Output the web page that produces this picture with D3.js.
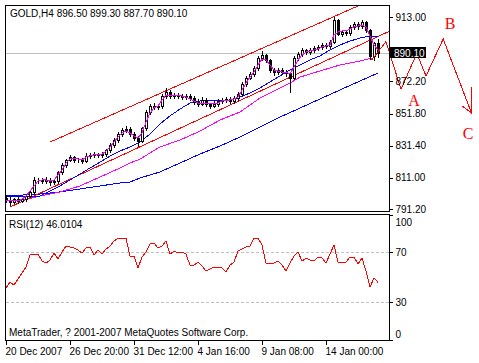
<!DOCTYPE html>
<html>
<head>
<meta charset="utf-8">
<script src="https://cdnjs.cloudflare.com/ajax/libs/d3/7.8.5/d3.min.js"></script>
<style>
body { margin: 0; background: #fff; }
svg text { font-family: "Liberation Sans", Arial, sans-serif; font-size: 10px; fill: #000; }
</style>
</head>
<body>
<div id="chart"></div>
<script>
/* chart data */
var symbol = "GOLD,H4";

var opens = [798.0, 796.8, 795.5, 797.4, 796.1, 797.4, 799.3, 801.9, 809.5, 809.5,
	808.9, 809.5, 808.2, 808.9, 814.6, 819.0, 822.2, 824.1, 822.2, 822.2,
	821.6, 824.8, 825.4, 826.0, 825.4, 826.0, 828.6, 831.8, 835.0, 838.8,
	841.3, 842.0, 838.8, 836.2, 834.3, 842.6, 852.8, 856.6, 856.0, 856.6,
	863.0, 865.5, 863.0, 863.6, 863.0, 862.3, 863.0, 861.7, 859.1, 857.9,
	860.4, 857.9, 856.6, 857.9, 859.8, 860.4, 861.0, 859.8, 861.7, 864.2,
	870.6, 874.4, 876.9, 880.7, 887.1, 889.0, 885.8, 879.5, 878.2, 879.5,
	878.2, 877.6, 874.4, 887.1, 889.6, 892.2, 890.9, 892.2, 893.5, 894.1,
	895.4, 894.7, 897.3, 911.3, 902.4, 903.6, 903.0, 906.8, 908.7, 907.5,
	910.0, 904.9, 888.5, 896.5];
var highs = [800.0, 798.5, 798.2, 798.6, 798.4, 800.0, 802.5, 811.5, 811.0, 810.6,
	811.2, 810.8, 810.0, 815.5, 820.5, 823.0, 825.5, 825.0, 823.8, 823.5,
	826.5, 827.0, 827.3, 827.0, 827.2, 829.5, 833.0, 836.5, 840.0, 842.5,
	843.8, 843.0, 840.0, 837.5, 843.5, 854.0, 858.0, 858.5, 858.0, 864.5,
	868.0, 866.5, 865.0, 864.8, 864.5, 864.3, 864.5, 863.0, 861.0, 862.5,
	861.5, 858.8, 859.5, 861.0, 862.0, 862.5, 862.4, 862.8, 865.5, 871.8,
	876.0, 878.5, 882.0, 888.5, 891.5, 889.8, 886.5, 880.8, 880.6, 880.5,
	879.5, 878.5, 888.5, 891.0, 893.5, 893.0, 893.4, 894.8, 895.5, 896.5,
	896.8, 898.5, 913.0, 911.8, 904.5, 905.0, 908.0, 910.2, 909.8, 911.5,
	910.8, 905.5, 897.5, 899.3];
var lows = [795.5, 794.0, 794.8, 795.0, 795.5, 796.5, 798.5, 801.0, 807.5, 807.6,
	807.8, 806.5, 807.3, 808.0, 813.5, 818.0, 821.5, 821.0, 820.8, 820.5,
	821.0, 823.5, 824.5, 824.3, 824.5, 825.0, 827.5, 830.5, 834.0, 837.5,
	840.0, 837.5, 835.0, 831.5, 833.5, 841.5, 851.5, 854.8, 854.5, 855.5,
	862.0, 862.0, 861.8, 861.5, 860.8, 861.0, 860.5, 858.0, 856.5, 857.0,
	856.5, 855.5, 855.8, 856.8, 858.5, 859.0, 858.5, 858.8, 860.5, 863.5,
	869.5, 873.5, 876.0, 879.5, 886.0, 884.8, 878.5, 876.5, 877.0, 877.0,
	875.5, 865.5, 873.5, 886.0, 888.5, 889.5, 889.8, 891.0, 892.5, 893.0,
	893.5, 893.5, 896.5, 901.5, 901.0, 901.8, 902.0, 905.5, 905.5, 906.5,
	903.5, 886.5, 886.0, 887.7];
var closes = [796.8, 795.5, 797.4, 796.1, 797.4, 799.3, 801.9, 809.5, 809.5, 808.9,
	809.5, 808.2, 808.9, 814.6, 819.0, 822.2, 824.1, 822.2, 822.2, 821.6,
	824.8, 825.4, 826.0, 825.4, 826.0, 828.6, 831.8, 835.0, 838.8, 841.3,
	842.0, 838.8, 836.2, 834.3, 842.6, 852.8, 856.6, 856.0, 856.6, 863.0,
	865.5, 863.0, 863.6, 863.0, 862.3, 863.0, 861.7, 859.1, 857.9, 860.4,
	857.9, 856.6, 857.9, 859.8, 860.4, 861.0, 859.8, 861.7, 864.2, 870.6,
	874.4, 876.9, 880.7, 887.1, 889.0, 885.8, 879.5, 878.2, 879.5, 878.2,
	877.6, 874.4, 887.1, 889.6, 892.2, 890.9, 892.2, 893.5, 894.1, 895.4,
	894.7, 897.3, 911.3, 902.4, 903.6, 903.0, 906.8, 908.7, 907.5, 910.0,
	904.9, 888.5, 896.5, 890.1];

/* fast magenta average, one value per bar */
var maFast = [796.3, 796.3, 796.3, 796.3, 797.5, 799.4, 802.6, 805.8, 809.0, 809.6,
	809.6, 809.0, 809.6, 812.8, 816.0, 820.4, 822.9, 823.6, 822.9, 822.3,
	824.2, 824.9, 825.5, 825.5, 826.1, 828.0, 830.6, 833.7, 836.9, 839.5,
	840.7, 839.5, 837.6, 836.3, 839.5, 846.5, 852.2, 855.3, 856.6, 860.4,
	863.6, 863.6, 863.6, 863.0, 863.0, 862.3, 861.1, 859.8, 858.5, 858.5,
	858.5, 857.9, 857.9, 858.5, 859.8, 860.4, 860.4, 861.1, 862.3, 866.8,
	871.2, 875.0, 878.2, 882.7, 886.5, 885.9, 882.7, 879.5, 878.9, 878.2,
	878.2, 877.0, 881.4, 885.9, 889.0, 890.9, 891.6, 892.2, 892.8, 894.1,
	894.7, 895.4, 901.7, 903.6, 904.3, 904.3, 905.5, 906.8, 907.5, 908.1,
	906.8, 901.1, 895.4, 892.2];

/* slower averages as [bar, price] */
var maBlue = [[0, 799.4], [8.5, 799.4], [11, 802.6], [13.5, 805.8], [16, 809.6], [18.5, 813.4],
	[21, 817.2], [23.5, 821.0], [26, 824.8], [28.5, 828.0], [31, 830.6], [33.5, 833.7],
	[36, 838.8], [38.5, 845.2], [41, 850.3], [43.5, 854.7], [46, 858.5], [48.5, 859.8],
	[51, 859.8], [53.5, 860.4], [56, 860.4], [58.5, 862.3], [61, 864.9], [63.5, 868.1],
	[66, 871.9], [68.5, 875.7], [71, 879.5], [73.5, 882.7], [76, 885.9], [78.5, 888.4],
	[81, 892.2], [83.5, 895.4], [86, 897.9], [88.5, 899.8], [91, 901.1], [93, 900.5]];
var maBlueSlow = [[0, 799.4], [8.5, 800.7], [13.5, 802.0], [18.5, 803.9], [23.5, 805.8],
	[28.5, 807.7], [31, 808.3], [33.5, 810.9], [38.5, 814.7], [43.5, 820.4], [48.5, 826.1],
	[53.5, 831.2], [58.5, 836.9], [63.5, 843.3], [68.5, 849.6], [73.5, 855.3], [78.5, 861.1],
	[83.5, 866.8], [88.5, 872.5], [93, 877.6]];
var maMagentaSlow = [[0, 796.3], [3.5, 796.3], [8.5, 799.4], [13.5, 802.0], [18.5, 805.8],
	[23.5, 811.5], [28.5, 817.2], [31, 820.4], [33.5, 822.9], [38.5, 830.6], [43.5, 835.0],
	[48.5, 840.7], [53.5, 847.7], [58.5, 852.8], [63.5, 861.7], [68.5, 868.1], [71, 871.2],
	[73.5, 875.0], [78.5, 878.9], [83.5, 882.7], [88.5, 885.2], [91.5, 887.1]];

/* trend channel and the A-B-C wave sketch */
var channelLow = [[1, 792.4], [96.5, 904.9]];
var channelHigh = [[11, 833.7], [88.9, 921.2]];
var wave = [[91.4, 885.8], [95, 897.5], [98.75, 867.2], [102.7, 890.1], [105, 875.7], [109.3, 899.2], [116.4, 852.0]];
var arrowHead = [[114.1, 856.6], [116.4, 852.0], [116.4, 868.5]];
var waveLabels = [["A", 102, 860.4], ["B", 111, 909.4], ["C", 115.5, 839.4]];

var rsi = [41.4, 46.2, 43.8, 48.6, 53.4, 58.2, 67.8, 68.6, 68.6, 63.0,
	61.4, 63.8, 69.4, 64.6, 70.2, 75.0, 74.2, 73.4, 71.8, 69.4,
	73.4, 74.2, 67.8, 71.8, 68.6, 72.6, 75.0, 79.0, 81.4, 81.4,
	81.4, 67.0, 67.0, 57.4, 66.2, 70.2, 76.6, 77.4, 73.4, 75.0,
	79.0, 68.6, 71.0, 69.4, 70.2, 68.6, 59.8, 59.8, 62.2, 59.0,
	55.0, 56.6, 58.2, 58.2, 57.4, 54.2, 59.8, 62.2, 71.0, 72.6,
	74.2, 75.0, 81.4, 81.4, 75.8, 61.4, 61.4, 61.4, 63.0, 59.8,
	55.0, 61.4, 67.0, 70.2, 63.0, 65.4, 63.8, 63.0, 66.2, 65.4,
	61.4, 68.6, 75.8, 62.2, 62.2, 62.2, 66.2, 66.2, 60.6, 65.4,
	55.0, 42.2, 49.4, 46.0104];

/* 892.60 sits under the price box in the picture, so only its tick is kept */
var priceTicks = [913.00, 892.60, 872.20, 851.80, 831.40, 811.00, 791.20];
var priceLabels = ["913.00", "", "872.20", "851.80", "831.40", "811.00", "791.20"];
var rsiTicks = [100, 70, 30, 0];
var rsiLevels = [70, 30];
var timeTickBars = [0, 16, 32, 48, 64, 80];
var timeTickLabels = ["20 Dec 2007", "26 Dec 20:00", "31 Dec 12:00", "4 Jan 16:00", "9 Jan 08:00", "14 Jan 00:00"];

var width = 479, height = 363;
var n = closes.length;
var last = n - 1;

var svg = d3.select("#chart").append("svg")
	.attr("width", width)
	.attr("height", height);

/* scales */
var x = d3.scaleLinear().domain([0, 95.75]).range([6, 389]);
var y = d3.scaleLinear().domain([789.9, 920.8]).range([211, 5]);
var yr = d3.scaleLinear().domain([0, 100]).range([339.8, 214.8]);
var f2 = d3.format(".2f");

function px(i) { return Math.round(x(i)); }

svg.append("clipPath").attr("id", "mainClip")
	.append("rect").attr("x", 6).attr("y", 6).attr("width", 383).attr("height", 205);
svg.append("clipPath").attr("id", "rsiClip")
	.append("rect").attr("x", 6).attr("y", 215).attr("width", 383).attr("height", 125);

var main = svg.append("g").attr("clip-path", "url(#mainClip)");

/* bid line */
main.append("line")
	.attr("x1", 6).attr("x2", 389)
	.attr("y1", Math.round(y(closes[last])) + 0.5)
	.attr("y2", Math.round(y(closes[last])) + 0.5)
	.style("stroke", "#c0c0c0");

var line = d3.line().x(function(d) { return x(d[0]); }).y(function(d) { return y(d[1]); });

function addPath(g, data, color) {
	g.append("path")
		.datum(data)
		.attr("d", line)
		.style("fill", "none")
		.style("stroke", color)
		.style("stroke-width", 1)
		.style("shape-rendering", "crispEdges");
}

addPath(main, maBlueSlow, "#0000ff");
addPath(main, maMagentaSlow, "#ff00ff");
addPath(main, channelLow, "#ff0000");
addPath(main, channelHigh, "#ff0000");
addPath(main, maBlue, "#0000ff");

/* candles */
var bars = d3.range(n);
main.selectAll("line.wick")
	.data(bars)
	.enter().append("line")
	.attr("class", "wick")
	.attr("x1", function(i) { return px(i) + 0.5; })
	.attr("x2", function(i) { return px(i) + 0.5; })
	.attr("y1", function(i) { return Math.round(y(highs[i])); })
	.attr("y2", function(i) { return Math.round(y(lows[i])) + 1; })
	.style("stroke", "#000")
	.style("shape-rendering", "crispEdges");

main.selectAll("rect.body")
	.data(bars)
	.enter().append("rect")
	.attr("class", "body")
	.attr("x", function(i) { return px(i) - 0.5; })
	.attr("y", function(i) { return Math.round(y(Math.max(opens[i], closes[i]))) + 0.5; })
	.attr("width", 2)
	.attr("height", function(i) {
		return Math.max(Math.round(y(Math.min(opens[i], closes[i]))) - Math.round(y(Math.max(opens[i], closes[i]))), 0);
	})
	.style("fill", function(i) { return closes[i] >= opens[i] ? "#fff" : "#000"; })
	.style("stroke", "#000")
	.style("shape-rendering", "crispEdges");

addPath(main, maFast.map(function(v, i) { return [i, v]; }), "#ff00ff");

/* wave sketch, drawn over the price scale */
addPath(svg, wave, "#ff0000");
addPath(svg, arrowHead, "#ff0000");

/* frames */
svg.append("rect").attr("x", 5.5).attr("y", 5.5).attr("width", 384).attr("height", 206)
	.style("fill", "none").style("stroke", "#000");
svg.append("rect").attr("x", 5.5).attr("y", 214.5).attr("width", 384).attr("height", 126)
	.style("fill", "none").style("stroke", "#000");

/* price axis */
var yAxis = svg.append("g")
	.attr("transform", "translate(389.5,0)")
	.call(d3.axisRight(y).tickValues(priceTicks).tickSize(3).tickSizeOuter(0).tickPadding(3)
		.tickFormat(function(d, i) { return priceLabels[i]; }));
yAxis.select(".domain").remove();
yAxis.selectAll("text").attr("font-family", null).attr("font-size", null);

/* current price box */
var bidY = Math.round(y(closes[last]));
svg.append("rect").attr("x", 390).attr("y", bidY - 6).attr("width", 36).attr("height", 11).style("fill", "#000");
svg.append("text").attr("x", 394).attr("y", bidY + 4).style("fill", "#fff").text(f2(closes[last]));

/* title */
svg.append("text").attr("x", 10).attr("y", 17)
	.text(symbol + "  " + [opens[last], highs[last], lows[last], closes[last]].map(f2).join(" "));

/* RSI panel */
var rsiG = svg.append("g").attr("clip-path", "url(#rsiClip)");
rsiG.selectAll("line.level")
	.data(rsiLevels)
	.enter().append("line")
	.attr("x1", 6).attr("x2", 389)
	.attr("y1", function(d) { return Math.round(yr(d)) + 0.5; })
	.attr("y2", function(d) { return Math.round(yr(d)) + 0.5; })
	.style("stroke", "#c0c0c0")
	.style("stroke-dasharray", "3,2");

rsiG.append("path")
	.datum(rsi)
	.attr("d", d3.line().x(function(d, i) { return x(i); }).y(function(d) { return yr(d); }))
	.style("fill", "none")
	.style("stroke", "#ff0000")
	.style("shape-rendering", "crispEdges");

svg.append("text").attr("x", 9).attr("y", 228).text("RSI(12) " + rsi[last].toFixed(4));
svg.append("text").attr("x", 9).attr("y", 336).text("MetaTrader, ? 2001-2007 MetaQuotes Software Corp.");

var rAxis = svg.append("g")
	.attr("transform", "translate(389.5,0)")
	.call(d3.axisRight(yr).tickValues(rsiTicks).tickSize(3).tickSizeOuter(0).tickPadding(3));
rAxis.select(".domain").remove();
rAxis.selectAll("text").attr("font-family", null).attr("font-size", null)
	.attr("dy", function(d) { return d == 100 ? "1.05em" : (d == 0 ? "-0.25em" : "0.32em"); });

/* time axis */
var xAxis = svg.append("g")
	.attr("transform", "translate(0,340.5)")
	.call(d3.axisBottom(x).tickValues(timeTickBars).tickSize(4).tickSizeOuter(0).tickPadding(3)
		.tickFormat(function(d, i) { return timeTickLabels[i]; }));
xAxis.select(".domain").remove();
xAxis.selectAll("text").attr("font-family", null).attr("font-size", null)
	.attr("text-anchor", "start").attr("x", -1);
svg.selectAll(".tick line").style("shape-rendering", "crispEdges");

/* wave labels */
svg.selectAll("text.wave")
	.data(waveLabels)
	.enter().append("text")
	.attr("class", "wave")
	.attr("x", function(d) { return x(d[1]); })
	.attr("y", function(d) { return y(d[2]); })
	.attr("dy", "0.35em")
	.attr("text-anchor", "middle")
	.style("font-family", "'Liberation Serif', 'Times New Roman', serif")
	.style("font-size", "16px")
	.style("fill", "#ff0000")
	.text(function(d) { return d[0]; });
</script>
</body>
</html>
